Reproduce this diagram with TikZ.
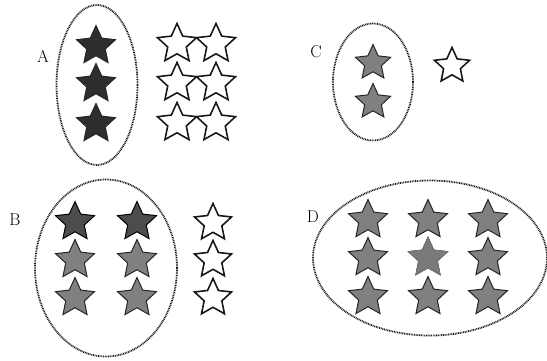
\documentclass[tikz,border=0pt]{standalone}
\usepackage{tikz}
\usetikzlibrary{shapes.geometric}
\usepackage{xcolor}

\begin{document}
\begin{tikzpicture}[x=1pt,y=-1pt,
  zvezda/.style={star,star points=5,star point ratio=2.1,minimum size=41pt,inner sep=0pt},
  polna/.style={zvezda,fill=black!82,draw=black!85,line width=1pt},
  siva/.style={zvezda,fill=black!50,draw=black!85,line width=1pt},
  prazna/.style={zvezda,draw=black!90,line width=1.6pt},
  oval/.style={ellipse,draw=black!90,line width=1.8pt,dash pattern=on 0.9pt off 0.8pt,inner sep=0pt},
  oznaka/.style={font=\fontsize{17}{17}\selectfont}]
\useasboundingbox (0,0) rectangle (547,360);
% A
\node[oval,minimum width=81pt,minimum height=160pt] (ovA) at (97,85) {};
\node[oznaka] (lA) at (43,56) {A};
\foreach \y [count=\i] in {46,84,124} \node[polna] (a\i) at (96,\y) {};
\foreach \y [count=\i] in {44,83,123} {
  \node[prazna] (pa\i) at (177,\y) {};
  \node[prazna] (qa\i) at (216,\y) {};
}
% C
\node[oval,minimum width=80pt,minimum height=117pt] (ovC) at (373,82) {};
\node[oznaka] (lC) at (316,52) {C};
\node[siva,minimum size=37pt] (c1) at (373,63) {};
\node[siva,minimum size=37pt] (c2) at (373,102) {};
\node[prazna,minimum size=37pt] (pc) at (452,66) {};
% B
\node[oval,minimum width=142pt,minimum height=177pt] (ovB) at (106,268) {};
\node[oznaka] (lB) at (15,220) {B};
\foreach \x [count=\i] in {75,137} {
  \node[siva,fill=black!70,draw=black] (b1\i) at (\x,222) {};
  \node[siva] (b2\i) at (\x,260) {};
  \node[siva] (b3\i) at (\x,298) {};
}
\foreach \y [count=\i] in {223,260,298} \node[prazna,minimum size=39pt] (pb\i) at (213,\y) {};
% D
\node[oval,minimum width=234pt,minimum height=155pt] (ovD) at (430,258) {};
\node[oznaka] (lD) at (313,217) {D};
\foreach \x [count=\i] in {368,428,488}
  \foreach \y [count=\j] in {220,258,297}
    \node[siva] (d\j\i) at (\x,\y) {};
\node[siva,fill=black!52,draw=black!55] at (d22) {};
\end{tikzpicture}
\end{document}
